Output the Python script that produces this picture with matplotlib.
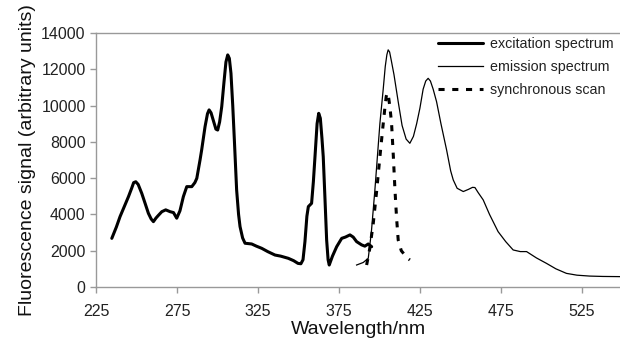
import matplotlib
matplotlib.use("Agg")
import matplotlib.pyplot as plt

plt.rcParams['font.family'] = ['Liberation Sans', 'DejaVu Sans']

# excitation spectrum
exc_x = [234.7, 237.5, 239.8, 242.5, 245.0, 247.0, 248.2, 249.5, 251.0, 253.2, 255.3, 257.3,
         259.0, 260.4, 262.0, 263.5, 265.6, 268.0, 270.7, 272.8, 274.8, 276.8, 278.9, 281.0,
         284.1, 286.0, 287.2, 289.2, 290.2, 292.3, 293.8, 294.8, 296.0, 297.5, 299.0, 300.1,
         301.3, 302.6, 304.0, 305.2, 306.3, 307.3, 308.3, 309.4, 310.4, 311.8, 313.0, 313.9,
         315.5, 317.0, 321.1, 324.0, 327.3, 331.0, 335.5, 339.0, 343.7, 347.0, 349.7, 351.5,
         352.8, 354.0, 355.2, 356.1, 358.1, 359.2, 360.2, 361.5, 362.5, 363.5, 364.5, 365.3,
         366.4, 367.4, 368.3, 369.0, 371.0, 373.6, 376.7, 379.0, 381.8, 383.8, 385.9, 389.0,
         391.0, 393.1, 395.2]
exc_y = [2680, 3300, 3880, 4450, 4980, 5450, 5750, 5800, 5650, 5160, 4600, 4060,
         3750, 3600, 3800, 3950, 4150, 4250, 4150, 4100, 3790, 4200, 4980, 5530,
         5530, 5750, 5990, 7000, 7550, 8840, 9550, 9760, 9600, 9150, 8700, 8650,
         9100, 9940, 11300, 12400, 12790, 12600, 11780, 10000, 8100, 5350, 4000, 3330,
         2700, 2410, 2370, 2250, 2130, 1950, 1760, 1700, 1580, 1450, 1300, 1280,
         1500, 2500, 3900, 4430, 4610, 5800, 7180, 9000, 9570, 9300, 8200, 7180,
         4800, 2590, 1500, 1210, 1700, 2220, 2680, 2750, 2870, 2750, 2500, 2320,
         2250, 2370, 2220]

# emission spectrum
emi_x = [385.9, 390.0, 393.1, 395.0, 397.2, 400.3, 402.3, 403.6, 404.6, 405.4, 406.3, 407.3,
         409.0, 411.6, 414.0, 416.5, 418.8, 421.0, 423.0, 425.0, 427.0, 428.6, 430.1, 431.5,
         433.2, 435.3, 438.0, 441.5, 444.0, 445.6, 448.0, 451.8, 455.0, 457.5, 459.0, 461.0,
         464.1, 468.0, 473.3, 478.0, 482.6, 487.0, 490.9, 497.0, 503.2, 509.0, 515.5, 522.0,
         529.9, 538.0, 548.6]
emi_y = [1210, 1350, 1580, 3000, 5350, 9020, 10860, 12150, 12800, 13070, 12950, 12500,
         11700, 10210, 8900, 8150, 7920, 8300, 9000, 9850, 10900, 11350, 11500, 11350,
         10900, 10210, 9000, 7550, 6400, 5900, 5440, 5260, 5380, 5490, 5480, 5200,
         4800, 4000, 3050, 2500, 2040, 1950, 1950, 1600, 1300, 1000, 750, 650,
         600, 580, 570]

# synchronous scan
syn_x = [392.1, 394.0, 396.2, 398.3, 400.3, 402.0, 403.4, 404.2, 404.8, 405.6, 406.5, 407.5,
         408.6, 409.6, 410.6, 411.6, 413.5, 415.7, 417.2, 418.8]
syn_y = [1210, 2100, 3510, 5300, 7180, 8700, 9900, 10500, 10700, 10500, 9900, 9020,
         7200, 5350, 3800, 2590, 2000, 1760, 1600, 1490]

fig = plt.figure(figsize=(6.2, 3.47), dpi=100)
ax = fig.add_axes([0.155, 0.173, 0.845, 0.732])

ax.plot(exc_x, exc_y, color='black', lw=2.2, label='excitation spectrum',
        solid_joinstyle='round', solid_capstyle='round')
ax.plot(emi_x, emi_y, color='black', lw=0.9, label='emission spectrum')
ax.plot(syn_x, syn_y, color='black', lw=2.2, ls=(0, (2, 2.5)), label='synchronous scan')

ax.set_xlim(225, 548.6)
ax.set_ylim(0, 14000)
ax.set_xticks([225, 275, 325, 375, 425, 475, 525])
ax.set_yticks(range(0, 14001, 2000))

for s in ['left', 'bottom', 'top']:
    ax.spines[s].set_color('#999999')
    ax.spines[s].set_linewidth(1.0)
ax.spines['right'].set_visible(False)
ax.tick_params(axis='both', colors='#999999', labelcolor='#222222', labelsize=11.5,
               length=4, width=1, direction='out')
ax.tick_params(axis='x', pad=8)

ax.set_xlabel('Wavelength/nm', fontsize=14, color='#111111', labelpad=2)
ax.set_ylabel('Fluorescence signal (arbitrary units)', fontsize=14, color='#111111', labelpad=4)

leg = ax.legend(loc='upper left', bbox_to_anchor=(0.653, 0.986), frameon=False, fontsize=10.3,
                handlelength=3.1, handletextpad=0.5, labelspacing=0.66, borderpad=0,
                borderaxespad=0)
for t in leg.get_texts():
    t.set_color('#222222')

fig.savefig('out.png', dpi=100)
